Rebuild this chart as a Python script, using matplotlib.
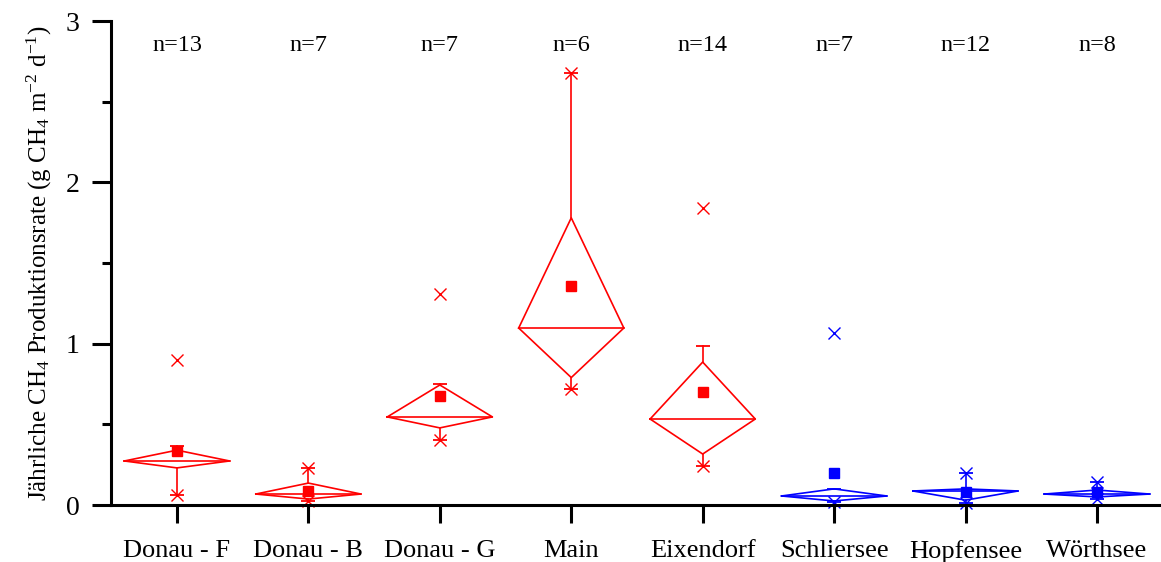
import matplotlib.pyplot as plt
from matplotlib.ticker import MultipleLocator

plt.rcParams['font.family'] = 'Liberation Serif'
plt.rcParams['mathtext.fontset'] = 'custom'
plt.rcParams['mathtext.rm'] = 'Liberation Serif'
plt.rcParams['mathtext.it'] = 'Liberation Serif:italic'

# sites and summary statistics of the annual CH4 production rate
sites = ['Donau - F', 'Donau - B', 'Donau - G', 'Main', 'Eixendorf',
         'Schliersee', 'Hopfensee', 'Wörthsee']
n_samples = [13, 7, 7, 6, 14, 7, 12, 8]
q25 = [0.23, 0.037, 0.478, 0.79, 0.316, 0.025, 0.03, 0.05]
median = [0.273, 0.068, 0.546, 1.097, 0.533, 0.056, 0.087, 0.068]
q75 = [0.34, 0.136, 0.744, 1.78, 0.886, 0.10, 0.10, 0.093]
means = [0.335, 0.087, 0.675, 1.36, 0.70, 0.20, 0.08, 0.08]
whisk_lo = [0.062, 0.025, 0.40, 0.72, 0.24, 0.02, 0.015, 0.037]
whisk_hi = [0.366, 0.23, 0.75, 2.68, 0.985, 0.10, 0.20, 0.143]
extreme_lo = [0.062, 0.025, 0.40, 0.72, 0.24, 0.02, 0.015, 0.037]
extreme_hi = [0.90, 0.23, 1.31, 2.68, 1.84, 1.066, 0.20, 0.143]
colors = ['#ff0000'] * 5 + ['#0000ff'] * 3

fig = plt.figure(figsize=(11.61, 5.62), dpi=100)
ax = fig.add_axes([0.0956, 0.1014, 0.9044, 0.8612])

hw = 0.4  # half width of the diamonds
lw = 1.2
for i in range(len(sites)):
    x = i + 1
    c = colors[i]
    # diamond: quartiles at top/bottom, median at the side corners
    ax.plot([x - hw, x, x + hw, x, x - hw],
            [median[i], q75[i], median[i], q25[i], median[i]],
            color=c, lw=lw, clip_on=False)
    ax.plot([x - hw, x + hw], [median[i], median[i]], color=c, lw=lw)
    # whiskers with caps
    ax.plot([x, x], [q75[i], whisk_hi[i]], color=c, lw=lw)
    ax.plot([x, x], [q25[i], whisk_lo[i]], color=c, lw=lw, clip_on=False)
    ax.plot([x, x], [whisk_lo[i], whisk_hi[i]], ls='none', marker='_',
            ms=10, mew=1.3, color=c, clip_on=False)
    # extremes
    ax.plot([x, x], [extreme_lo[i], extreme_hi[i]], ls='none', marker='x',
            ms=8, mew=1.0, color=c, clip_on=False)
    # mean
    ax.plot(x, means[i], ls='none', marker='s', ms=6.5, color=c)
    ax.text(x, 2.85, f'n={n_samples[i]}', ha='center', va='center',
            fontsize=17.5)

ax.set_xlim(0.498, 8.487)
ax.set_ylim(0, 3)
ax.set_xticks(range(1, len(sites) + 1))
ax.set_xticklabels(sites, fontsize=19)
ax.yaxis.set_major_locator(MultipleLocator(1))
ax.yaxis.set_minor_locator(MultipleLocator(0.5))
ax.tick_params(axis='y', which='major', direction='out', length=13.7,
               width=2.2, labelsize=20, pad=9)
ax.tick_params(axis='y', which='minor', direction='out', length=6.5, width=2.2)
ax.tick_params(axis='x', which='major', direction='out', length=13,
               width=2.2, pad=12.5)
ax.spines['top'].set_visible(False)
ax.spines['right'].set_visible(False)
ax.spines['left'].set_linewidth(2.2)
ax.spines['bottom'].set_linewidth(2.2)
ax.set_ylabel(r'Jährliche CH$_4$ Produktionsrate (g CH$_4$ m$^{-2}$ d$^{-1}$)',
              fontsize=18, labelpad=8)

fig.savefig('out.png', dpi=100)
